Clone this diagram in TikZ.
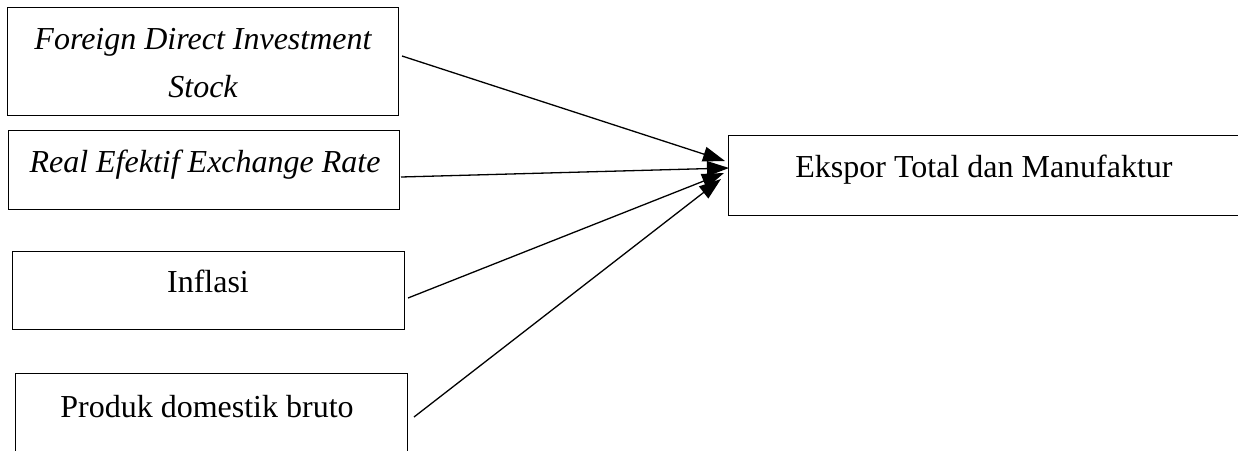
\documentclass[tikz,border=0pt]{standalone}
\usepackage{fontspec}
\setmainfont{Liberation Serif}
\usetikzlibrary{arrows.meta}
\begin{document}
\begin{tikzpicture}[x=1pt,y=-1pt,
  box/.style={draw,line width=1.4pt,inner sep=0pt,anchor=north west},
  lbl/.style={inner sep=0pt,anchor=base,font=\fontsize{32}{40}\selectfont},
  conn/.style={line width=1.3pt,-{Triangle[length=22pt,width=15pt]}}]
\useasboundingbox (0,0) rectangle (1238,450);
\begin{scope}
\clip (0,0) rectangle (1238,450);
\node[box,minimum width=391pt,minimum height=108pt] (b1) at (7,7) {};
\node[box,minimum width=391pt,minimum height=79pt] (b2) at (8,130) {};
\node[box,minimum width=392pt,minimum height=78pt] (b3) at (12,251) {};
\node[box,minimum width=392pt,minimum height=100pt] (b4) at (15,373) {};
\node[box,minimum width=520pt,minimum height=80pt] (r) at (728,135) {};
\end{scope}
\node[lbl] (t1a) at (203,49) {\itshape Foreign Direct Investment};
\node[lbl] (t1b) at (203,97) {\itshape Stock};
\node[lbl] (t2) at (205,172) {\itshape Real Efektif Exchange Rate};
\node[lbl] (t3) at (208,292) {Inflasi};
\node[lbl] (t4) at (207,417) {Produk domestik bruto};
\node[lbl] (tr) at (984,177) {Ekspor Total dan Manufaktur};
\coordinate (s1) at (402,56);
\coordinate (s2) at (401,177);
\coordinate (s3) at (408,298);
\coordinate (s4) at (414,417);
\coordinate (e1) at (725,161);
\coordinate (e2) at (729,168);
\coordinate (e3) at (724,173);
\coordinate (e4) at (721,179);
\draw[conn] (s1) -- (e1);
\draw[conn] (s2) -- (e2);
\draw[conn] (s3) -- (e3);
\draw[conn] (s4) -- (e4);
\end{tikzpicture}
\end{document}
